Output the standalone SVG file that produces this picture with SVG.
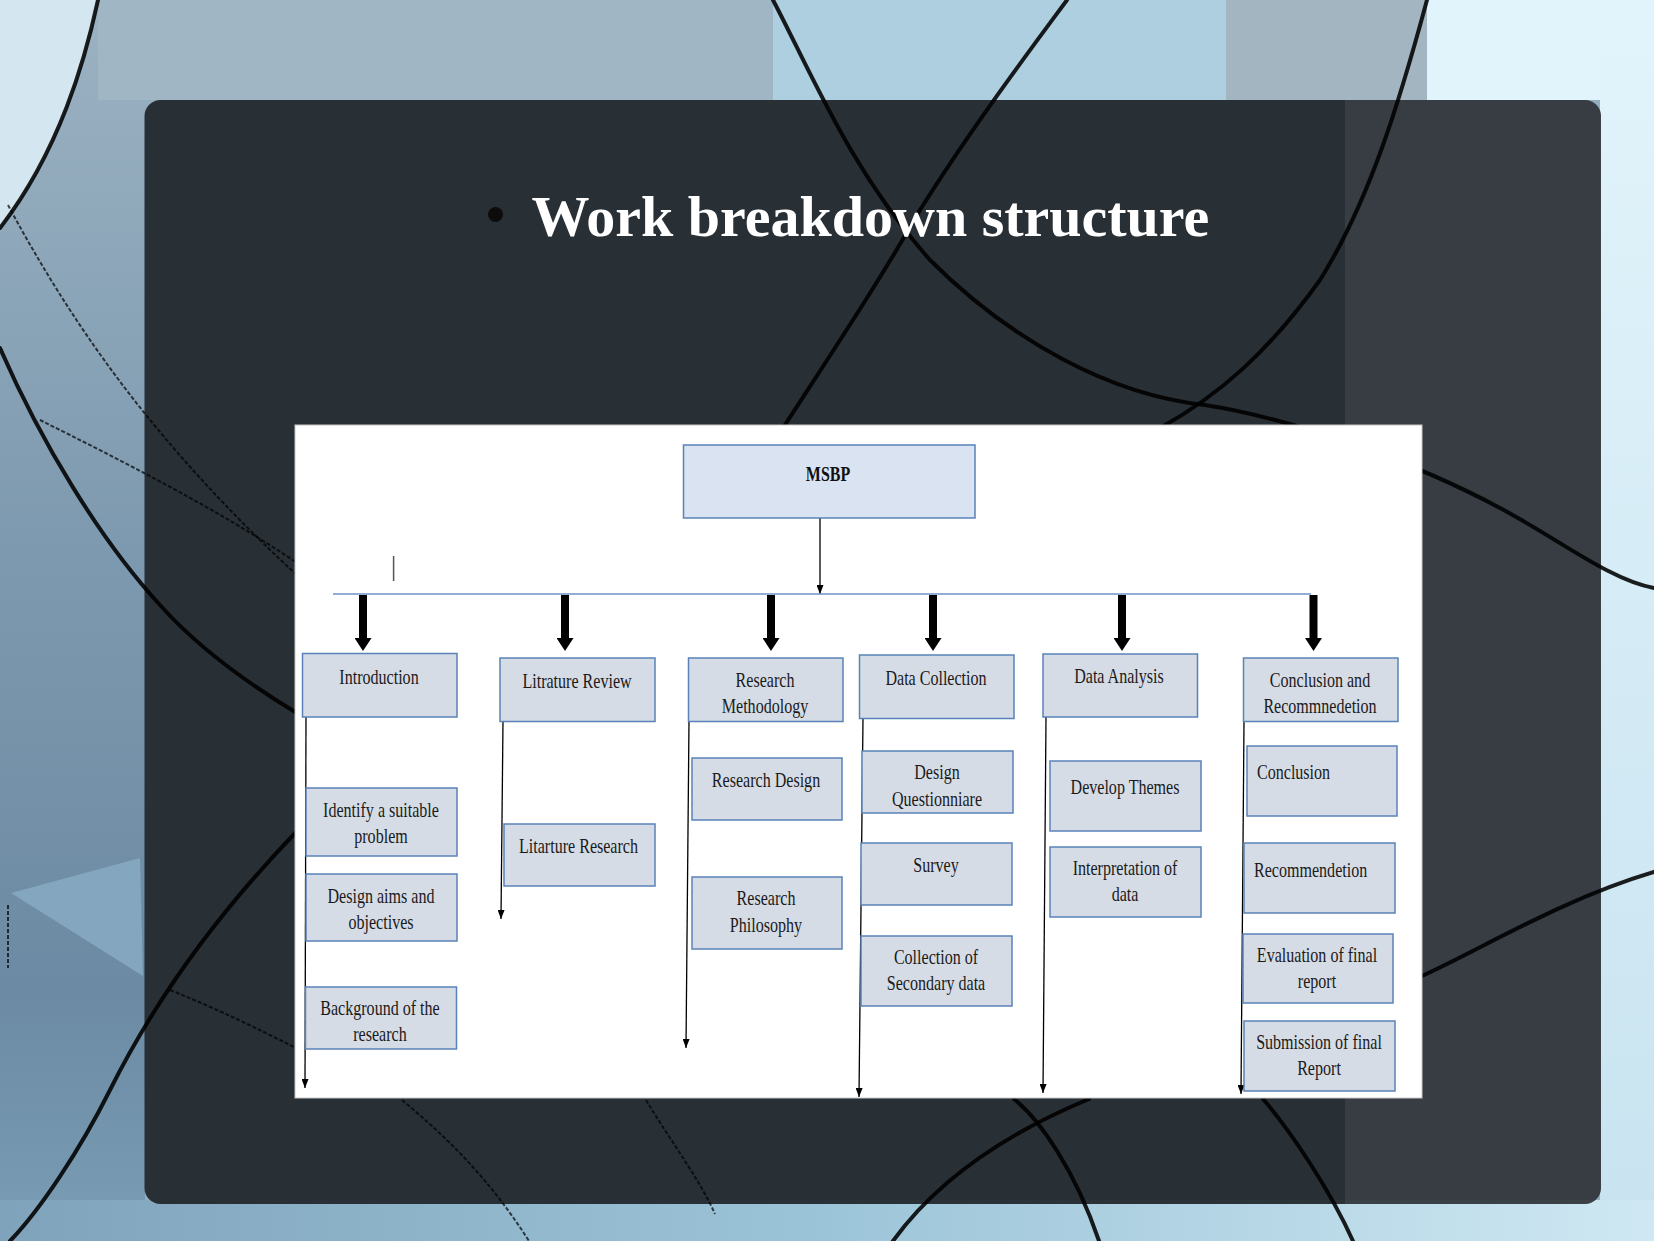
<svg xmlns="http://www.w3.org/2000/svg" width="1654" height="1241" viewBox="0 0 1654 1241">
<defs>
<linearGradient id="gLeft" x1="0" y1="0" x2="0" y2="1">
<stop offset="0" stop-color="#9bb2c2"/>
<stop offset="0.45" stop-color="#7d99af"/>
<stop offset="0.8" stop-color="#6c8aa3"/>
<stop offset="1" stop-color="#7a9db6"/>
</linearGradient>
<linearGradient id="gBottom" x1="0" y1="0" x2="1" y2="0">
<stop offset="0" stop-color="#7fa3bb"/>
<stop offset="0.5" stop-color="#9cc4d8"/>
<stop offset="1" stop-color="#cfe8f3"/>
</linearGradient>
<linearGradient id="gRight" x1="0" y1="0" x2="0" y2="1">
<stop offset="0" stop-color="#e2f4fb"/>
<stop offset="1" stop-color="#c8e3f0"/>
</linearGradient>
<marker id="ah" viewBox="0 0 10 10" refX="10" refY="5" markerWidth="9" markerHeight="7" markerUnits="userSpaceOnUse" orient="auto" preserveAspectRatio="none">
<path d="M0,0 L10,5 L0,10 z" fill="#000"/>
</marker>
<marker id="thick" viewBox="0 0 10 10" refX="0" refY="5" markerWidth="13" markerHeight="17" markerUnits="userSpaceOnUse" orient="auto" preserveAspectRatio="none">
<path d="M0,0 L10,5 L0,10 z" fill="#000"/>
</marker>
</defs>
<style>
.box { fill: #d6dce6; stroke: #5a82b8; stroke-width: 1.5; }
.root { fill: #dae3f2; stroke: #5a82b8; stroke-width: 1.5; }
.t { font-family: "Liberation Serif", "Times New Roman", serif; font-size: 22px; fill: #1a1a1a; text-anchor: middle; }
.ts { font-family: "Liberation Serif", "Times New Roman", serif; font-size: 22px; fill: #1a1a1a; text-anchor: start; }
.tb { font-family: "Liberation Serif", "Times New Roman", serif; font-size: 21px; font-weight: bold; fill: #111; text-anchor: middle; }
.title { font-family: "Liberation Serif", "Times New Roman", serif; font-size: 58px; font-weight: bold; fill: #ffffff; }
.thin { stroke: #000; stroke-width: 1.3; fill: none; marker-end: url(#ah); }
.fat { stroke: #000; stroke-width: 8; fill: none; marker-end: url(#thick); }
.bus { stroke: #6d93c2; stroke-width: 1.6; fill: none; }
.crv { stroke: #000; stroke-width: 4; fill: none; stroke-linecap: round; stroke-opacity: 0.88; }
.crvt { stroke: #000; stroke-width: 2; fill: none; stroke-opacity: 0.7; stroke-dasharray: 4 2; }
</style>

<!-- background -->
<g id="background">
<rect x="0" y="0" width="1654" height="1241" fill="#93aebf"/>
<rect x="0" y="0" width="145" height="1241" fill="url(#gLeft)"/>
<rect x="98" y="0" width="675" height="100" fill="#a0b6c5"/>
<rect x="773" y="0" width="453" height="100" fill="#aecfe0"/>
<rect x="1226" y="0" width="201" height="100" fill="#a2b5c1"/>
<rect x="1427" y="0" width="227" height="100" fill="#e2f4fb"/>
<rect x="1600" y="0" width="54" height="1241" fill="url(#gRight)"/>
<rect x="0" y="1200" width="1654" height="41" fill="url(#gBottom)"/>
<path d="M0,0 L98,0 C85,60 60,150 0,228 Z" fill="#d4e6ef"/>
<path d="M11,893 L140,858 L143,976 Z" fill="#84a6be"/>
</g>

<!-- dark panel -->
<rect id="panel" x="144.5" y="100" width="1456.5" height="1104" rx="16" ry="16" fill="#20262a" fill-opacity="0.93"/>
<rect x="1345" y="100" width="240" height="1104" fill="#ffffff" fill-opacity="0.07"/>
<path d="M1585,100 A16,16 0 0 1 1601,116 L1601,1188 A16,16 0 0 1 1585,1204 Z" fill="#ffffff" fill-opacity="0.07"/>

<!-- decorative curves -->
<g id="curves">
<path class="crv" d="M98,0 C85,60 60,150 0,228"/>
<path class="crvt" d="M8,205 C70,320 150,440 300,578"/>
<path class="crv" d="M0,348 C40,440 100,540 160,605 C200,650 250,685 300,715"/>
<path class="crvt" d="M40,420 C120,460 220,510 300,565"/>
<path class="crv" d="M300,828 C230,900 160,990 110,1090 C80,1150 40,1210 10,1241"/>
<path class="crvt" d="M170,990 C220,1010 260,1030 296,1048"/>
<path class="crvt" d="M402,1100 C450,1140 490,1180 529,1241"/>
<path class="crvt" d="M646,1100 C670,1140 700,1180 715,1214"/>
<path class="crv" d="M893,1241 C930,1190 990,1140 1089,1099"/>
<path class="crv" d="M1014,1099 C1040,1120 1075,1170 1099,1241"/>
<path class="crv" d="M1263,1099 C1290,1130 1330,1190 1353,1241"/>
<path class="crv" d="M1422,976 C1480,950 1560,900 1654,872"/>
<path class="crv" d="M773,0 C810,70 850,170 930,260 C1010,340 1110,395 1205,405 C1300,420 1420,465 1500,508 C1560,540 1610,580 1654,588"/>
<path class="crv" d="M1427,0 C1400,100 1370,200 1320,280 C1270,350 1220,395 1160,428"/>
<path class="crv" d="M1067,0 C1030,50 970,130 920,210 C880,280 840,340 783,428"/>
<path class="crvt" d="M8,905 L8,968"/>
</g>

<!-- title -->
<g id="title">
<circle cx="495.5" cy="214.5" r="7.5" fill="#0c0c0c"/>
<text class="title" x="531.5" y="236">Work breakdown structure</text>
</g>

<!-- diagram canvas -->
<rect id="canvas" x="295" y="425" width="1127" height="673" fill="#ffffff" stroke="#c8c8c8" stroke-width="1"/>

<!-- connectors -->
<g id="connectors">
<line class="thin" x1="820" y1="518" x2="820" y2="594"/>
<line class="bus" x1="333" y1="594" x2="1311" y2="594"/>
<line x1="393.6" y1="556" x2="393.6" y2="581" stroke="#555" stroke-width="1.5"/>
<line class="fat" x1="363" y1="595" x2="363" y2="638"/>
<line class="fat" x1="565" y1="595" x2="565" y2="638"/>
<line class="fat" x1="771" y1="595" x2="771" y2="638"/>
<line class="fat" x1="933" y1="595" x2="933" y2="638"/>
<line class="fat" x1="1122" y1="595" x2="1122" y2="638"/>
<line class="fat" x1="1313.5" y1="595" x2="1313.5" y2="638"/>
<line class="thin" x1="306" y1="717" x2="305" y2="1088"/>
<line class="thin" x1="503" y1="721" x2="501" y2="919"/>
<line class="thin" x1="689" y1="721" x2="686" y2="1048"/>
<line class="thin" x1="863" y1="718" x2="859" y2="1097"/>
<line class="thin" x1="1046" y1="717" x2="1043" y2="1093"/>
<line class="thin" x1="1244" y1="722" x2="1241" y2="1094"/>
</g>

<!-- nodes -->
<g id="msbp">
<rect class="root" x="683.5" y="445" width="291.5" height="73"/>
<text class="tb" transform="translate(828,481) scale(0.76,1)">MSBP</text>
</g>

<g id="introduction">
<rect class="box" x="302.5" y="653.5" width="154.5" height="63.5"/>
<text class="t" transform="translate(379,684) scale(0.73,1)">Introduction</text>
</g>
<g id="litrature-review">
<rect class="box" x="500" y="658" width="155" height="63.5"/>
<text class="t" transform="translate(577,688) scale(0.73,1)">Litrature Review</text>
</g>
<g id="research-methodology">
<rect class="box" x="688.5" y="658" width="154.5" height="63.5"/>
<text class="t" transform="translate(765,687) scale(0.73,1)"><tspan x="0" y="0">Research</tspan><tspan x="0" y="26">Methodology</tspan></text>
</g>
<g id="data-collection">
<rect class="box" x="859.5" y="655" width="154.5" height="63.5"/>
<text class="t" transform="translate(936,685) scale(0.73,1)">Data Collection</text>
</g>
<g id="data-analysis">
<rect class="box" x="1043" y="654" width="154.5" height="63"/>
<text class="t" transform="translate(1119,683) scale(0.73,1)">Data Analysis</text>
</g>
<g id="conclusion-and-recommendation">
<rect class="box" x="1243.5" y="658" width="154.5" height="63.5"/>
<text class="t" transform="translate(1320,687) scale(0.73,1)"><tspan x="0" y="0">Conclusion and</tspan><tspan x="0" y="26">Recommnedetion</tspan></text>
</g>

<g id="identify-problem">
<rect class="box" x="306" y="788" width="151" height="68"/>
<text class="t" transform="translate(381,817) scale(0.73,1)"><tspan x="0" y="0">Identify a suitable</tspan><tspan x="0" y="26">problem</tspan></text>
</g>
<g id="design-aims">
<rect class="box" x="306" y="874" width="151" height="67"/>
<text class="t" transform="translate(381,903) scale(0.73,1)"><tspan x="0" y="0">Design aims and</tspan><tspan x="0" y="26">objectives</tspan></text>
</g>
<g id="background-research">
<rect class="box" x="305.5" y="987" width="151" height="62"/>
<text class="t" transform="translate(380,1015) scale(0.73,1)"><tspan x="0" y="0">Background of the</tspan><tspan x="0" y="26">research</tspan></text>
</g>

<g id="litarture-research">
<rect class="box" x="504" y="824" width="151" height="62"/>
<text class="t" transform="translate(578.5,853) scale(0.73,1)">Litarture Research</text>
</g>

<g id="research-design">
<rect class="box" x="692" y="758" width="150" height="62"/>
<text class="t" transform="translate(766,787) scale(0.73,1)">Research Design</text>
</g>
<g id="research-philosophy">
<rect class="box" x="692" y="877" width="150" height="72"/>
<text class="t" transform="translate(766,905) scale(0.73,1)"><tspan x="0" y="0">Research</tspan><tspan x="0" y="27">Philosophy</tspan></text>
</g>

<g id="design-questionnaire">
<rect class="box" x="862" y="751" width="151" height="62"/>
<text class="t" transform="translate(937,779) scale(0.73,1)"><tspan x="0" y="0">Design</tspan><tspan x="0" y="27">Questionniare</tspan></text>
</g>
<g id="survey">
<rect class="box" x="861" y="843" width="151" height="62"/>
<text class="t" transform="translate(936,872) scale(0.73,1)">Survey</text>
</g>
<g id="secondary-data">
<rect class="box" x="861" y="936" width="151" height="70"/>
<text class="t" transform="translate(936,964) scale(0.73,1)"><tspan x="0" y="0">Collection of</tspan><tspan x="0" y="26">Secondary data</tspan></text>
</g>

<g id="develop-themes">
<rect class="box" x="1050" y="761" width="151" height="70"/>
<text class="t" transform="translate(1125,794) scale(0.73,1)">Develop Themes</text>
</g>
<g id="interpretation">
<rect class="box" x="1050" y="847" width="151" height="70"/>
<text class="t" transform="translate(1125,875) scale(0.73,1)"><tspan x="0" y="0">Interpretation of</tspan><tspan x="0" y="26">data</tspan></text>
</g>

<g id="conclusion">
<rect class="box" x="1247" y="746" width="150" height="70"/>
<text class="ts" transform="translate(1257,779) scale(0.73,1)">Conclusion</text>
</g>
<g id="recommendation">
<rect class="box" x="1244" y="843" width="151" height="70"/>
<text class="ts" transform="translate(1254,877) scale(0.73,1)">Recommendetion</text>
</g>
<g id="evaluation">
<rect class="box" x="1243" y="934" width="150" height="69"/>
<text class="t" transform="translate(1317,962) scale(0.73,1)"><tspan x="0" y="0">Evaluation of final</tspan><tspan x="0" y="26">report</tspan></text>
</g>
<g id="submission">
<rect class="box" x="1244" y="1021" width="151" height="70"/>
<text class="t" transform="translate(1319,1049) scale(0.73,1)"><tspan x="0" y="0">Submission of final</tspan><tspan x="0" y="26">Report</tspan></text>
</g>
</svg>
